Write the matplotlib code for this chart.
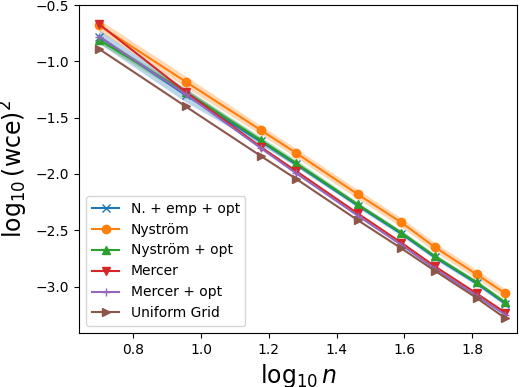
import numpy as np
from matplotlib import pyplot as plt

# log10 of number of points
n = np.array([5, 9, 15, 19, 29, 39, 49, 65, 79])
x = np.log10(n)

emp_opt = [-0.78, -1.30, -1.71, -1.91, -2.28, -2.53, -2.74, -2.97, -3.15]
nystrom = [-0.68, -1.18, -1.61, -1.81, -2.18, -2.43, -2.65, -2.89, -3.06]
nystrom_opt = [-0.81, -1.27, -1.70, -1.90, -2.27, -2.52, -2.73, -2.96, -3.14]
mercer = [-0.67, -1.27, -1.76, -1.97, -2.35, -2.61, -2.82, -3.06, -3.23]
mercer_opt = [-0.78, -1.29, -1.77, -1.99, -2.37, -2.63, -2.84, -3.08, -3.25]
grid = [-0.89, -1.40, -1.84, -2.04, -2.41, -2.66, -2.86, -3.10, -3.28]

# spread of the shaded bands
emp_opt_sd = [0.06, 0.06, 0.03, 0.02, 0.02, 0.02, 0.02, 0.02, 0.02]
nystrom_sd = [0.05, 0.05, 0.04, 0.04, 0.04, 0.04, 0.04, 0.04, 0.04]
nystrom_opt_sd = [0.03, 0.03, 0.03, 0.03, 0.02, 0.02, 0.02, 0.02, 0.02]

fig = plt.figure(figsize=(5.24, 3.87), dpi=100)
ax = fig.add_axes([0.151, 0.140, 0.836, 0.847])

series = [
    ("N. + emp + opt", emp_opt, emp_opt_sd, "x"),
    ("Nyström", nystrom, nystrom_sd, "o"),
    ("Nyström + opt", nystrom_opt, nystrom_opt_sd, "^"),
    ("Mercer", mercer, None, "v"),
    ("Mercer + opt", mercer_opt, None, "+"),
    ("Uniform Grid", grid, None, ">"),
]

for i, (name, y, sd, m) in enumerate(series):
    c = "C%d" % i
    y = np.array(y)
    ax.plot(x, y, marker=m, color=c, label=name, markersize=6)
    if sd is not None:
        sd = np.array(sd)
        ax.fill_between(x, y - sd, y + sd, color=c, alpha=0.3, linewidth=0)

ax.set_xlim(0.64, 1.933)
ax.set_ylim(-3.41, -0.5)
ax.set_xlabel(r"$\log_{10} n$", fontsize=17)
ax.set_ylabel(r"$\log_{10}(\mathrm{wce})^2$", fontsize=17)
ax.legend(loc="lower left", fontsize=10)
fig.savefig("out.png", dpi=100)
